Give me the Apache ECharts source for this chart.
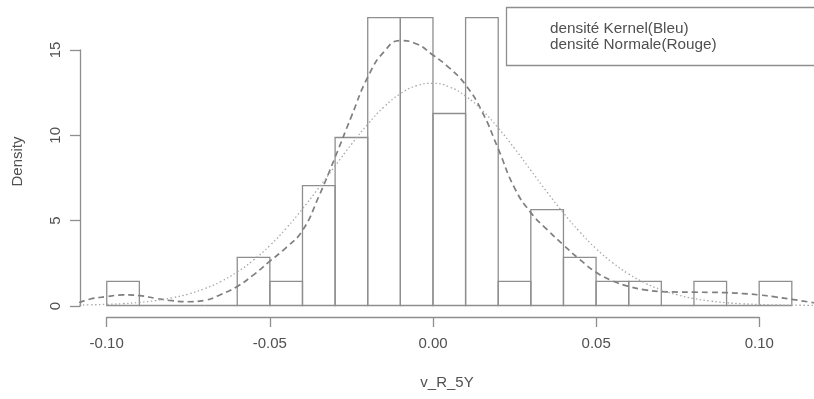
<!DOCTYPE html>
<html>
<head>
<meta charset="utf-8">
<script src="https://cdn.jsdelivr.net/npm/echarts@6/dist/echarts.min.js"></script>
<style>html,body{margin:0;padding:0;background:#fff;}#c{width:814px;height:399px;}</style>
</head>
<body>
<div id="c"></div>
<script>
// Histogram bins (v_R_5Y) and densities
const binLeft  = [-0.10,-0.09,-0.08,-0.07,-0.06,-0.05,-0.04,-0.03,-0.02,-0.01,0.00,0.01,0.02,0.03,0.04,0.05,0.06,0.07,0.08,0.09,0.10];
const binRight = [-0.09,-0.08,-0.07,-0.06,-0.05,-0.04,-0.03,-0.02,-0.01,0.00,0.01,0.02,0.03,0.04,0.05,0.06,0.07,0.08,0.09,0.10,0.11];
const density  = [1.41,0,0,0,2.82,1.41,7.04,9.86,16.90,16.90,11.27,16.90,1.41,5.63,2.82,1.41,1.41,0,1.41,0,1.41];

// Kernel density (dashed)
const kernelX = [-0.1085,-0.105,-0.100,-0.095,-0.090,-0.085,-0.080,-0.075,-0.070,-0.065,-0.060,-0.055,-0.050,-0.045,-0.040,-0.035,-0.030,-0.025,-0.020,-0.015,-0.010,-0.005,0.000,0.005,0.010,0.015,0.020,0.025,0.030,0.035,0.040,0.045,0.050,0.055,0.060,0.065,0.070,0.075,0.080,0.085,0.090,0.095,0.100,0.105,0.110,0.1168];
const kernelY = [0.17,0.38,0.52,0.62,0.58,0.42,0.28,0.22,0.30,0.65,1.12,1.80,2.60,3.40,4.40,6.40,8.70,11.10,13.40,14.90,15.55,15.35,14.70,13.95,12.95,11.40,9.20,6.90,5.45,4.45,3.55,2.70,1.95,1.45,1.12,0.92,0.82,0.79,0.78,0.77,0.75,0.70,0.62,0.50,0.36,0.16];

// Normal density (dotted)
const normalX = [-0.1085,-0.105,-0.100,-0.095,-0.090,-0.085,-0.080,-0.075,-0.070,-0.065,-0.060,-0.055,-0.050,-0.045,-0.040,-0.035,-0.030,-0.025,-0.020,-0.015,-0.010,-0.005,0.000,0.005,0.010,0.015,0.020,0.025,0.030,0.035,0.040,0.045,0.050,0.055,0.060,0.065,0.070,0.075,0.080,0.085,0.090,0.095,0.100,0.105,0.110,0.1168];
const normalY = [0.026,0.038,0.066,0.11,0.18,0.29,0.45,0.67,0.99,1.41,1.97,2.67,3.52,4.53,5.67,6.91,8.19,9.46,10.64,11.66,12.43,12.90,13.04,12.83,12.29,11.47,10.42,9.22,7.93,6.65,5.43,4.32,3.34,2.52,1.85,1.32,0.92,0.62,0.41,0.26,0.16,0.10,0.06,0.034,0.019,0.009];

// Axis ticks
const xTicks = [-0.10,-0.05,0.00,0.05,0.10];
const yTicks = [0,5,10,15];

const FONT = 'Liberation Sans';
const TXT = '#505050';
const LINE = '#8e8e8e';

const histData = binLeft.map((l,i)=>[l, binRight[i], density[i]]);
const kernelData = kernelX.map((x,i)=>[x, kernelY[i]]);
const normalData = normalX.map((x,i)=>[x, normalY[i]]);

const chart = echarts.init(document.getElementById('c'), null, {renderer:'canvas'});
chart.setOption({
  animation:false,
  backgroundColor:'#fff',
  textStyle:{fontFamily:FONT},
  grid:[
    {left:80, right:0, top:6, bottom:82},
    {left:106.7, right:54.7, top:50, bottom:93}
  ],
  graphic:[
    {type:'rect', silent:true, z:10,
     shape:{x:506.5, y:7.5, width:340, height:58},
     style:{fill:'none', stroke:LINE, lineWidth:1.3}}
  ],
  xAxis:[
    {gridIndex:0, type:'value', min:-0.1082, max:0.1168,
     axisLine:{show:false}, axisTick:{show:false}, axisLabel:{show:false}, splitLine:{show:false},
     name:'v_R_5Y', nameLocation:'middle', nameGap:58,
     nameTextStyle:{color:TXT, fontSize:15, fontFamily:FONT}},
    {gridIndex:1, type:'value', min:xTicks[0], max:xTicks[xTicks.length-1], interval:0.05, offset:11,
     position:'bottom',
     axisLine:{show:true, onZero:false, lineStyle:{color:LINE, width:1.3}},
     axisTick:{show:true, length:10, lineStyle:{color:LINE, width:1.3}},
     axisLabel:{show:true, margin:19, color:TXT, fontSize:15, fontFamily:FONT,
       formatter:v=>v.toFixed(2)},
     splitLine:{show:false}}
  ],
  yAxis:[
    {gridIndex:0, type:'value', min:-0.676, max:17.58,
     axisLine:{show:false}, axisTick:{show:false}, axisLabel:{show:false}, splitLine:{show:false},
     name:'Density', nameLocation:'middle', nameGap:55, nameRotate:90,
     nameTextStyle:{color:TXT, fontSize:15, fontFamily:FONT}},
    {gridIndex:1, type:'value', min:yTicks[0], max:yTicks[yTicks.length-1], interval:5, offset:26.7,
     position:'left',
     axisLine:{show:true, onZero:false, lineStyle:{color:LINE, width:1.3}},
     axisTick:{show:true, length:10, lineStyle:{color:LINE, width:1.3}},
     axisLabel:{show:true, margin:17, rotate:90, color:TXT, fontSize:15, fontFamily:FONT},
     splitLine:{show:false}}
  ],
  legend:{
    orient:'vertical', left:506, top:7,
    data:['densité Kernel(Bleu)','densité Normale(Rouge)'],
    itemWidth:0, itemHeight:16, itemGap:0,
    icon:'rect', itemStyle:{opacity:0}, lineStyle:{opacity:0},
    padding:[14,20,12,39],
    borderWidth:0,
    textStyle:{color:TXT, fontSize:15.3, fontFamily:FONT, lineHeight:16, padding:0},
    selectedMode:false
  },
  series:[
    {type:'custom', name:'hist', xAxisIndex:0, yAxisIndex:0, data:histData, silent:true,
     encode:{x:[0,1], y:2},
     renderItem:function(params, api){
       const p0 = api.coord([api.value(0), api.value(2)]);
       const p1 = api.coord([api.value(1), 0]);
       return {type:'rect', shape:{x:p0[0], y:p0[1], width:p1[0]-p0[0], height:p1[1]-p0[1]},
               style:{fill:'none', stroke:LINE, lineWidth:1.3}};
     }},
    {type:'line', name:'densité Kernel(Bleu)', xAxisIndex:0, yAxisIndex:0, data:kernelData,
     showSymbol:false, smooth:0.5, color:'#7f7f7f',
     lineStyle:{color:'#7f7f7f', width:1.7, type:[6,4]}},
    {type:'line', name:'densité Normale(Rouge)', xAxisIndex:0, yAxisIndex:0, data:normalData,
     showSymbol:false, smooth:0.5, color:'#a8a8a8',
     lineStyle:{color:'#a8a8a8', width:1.3, type:[1.5,2.5]}}
  ]
});
</script>
</body>
</html>
